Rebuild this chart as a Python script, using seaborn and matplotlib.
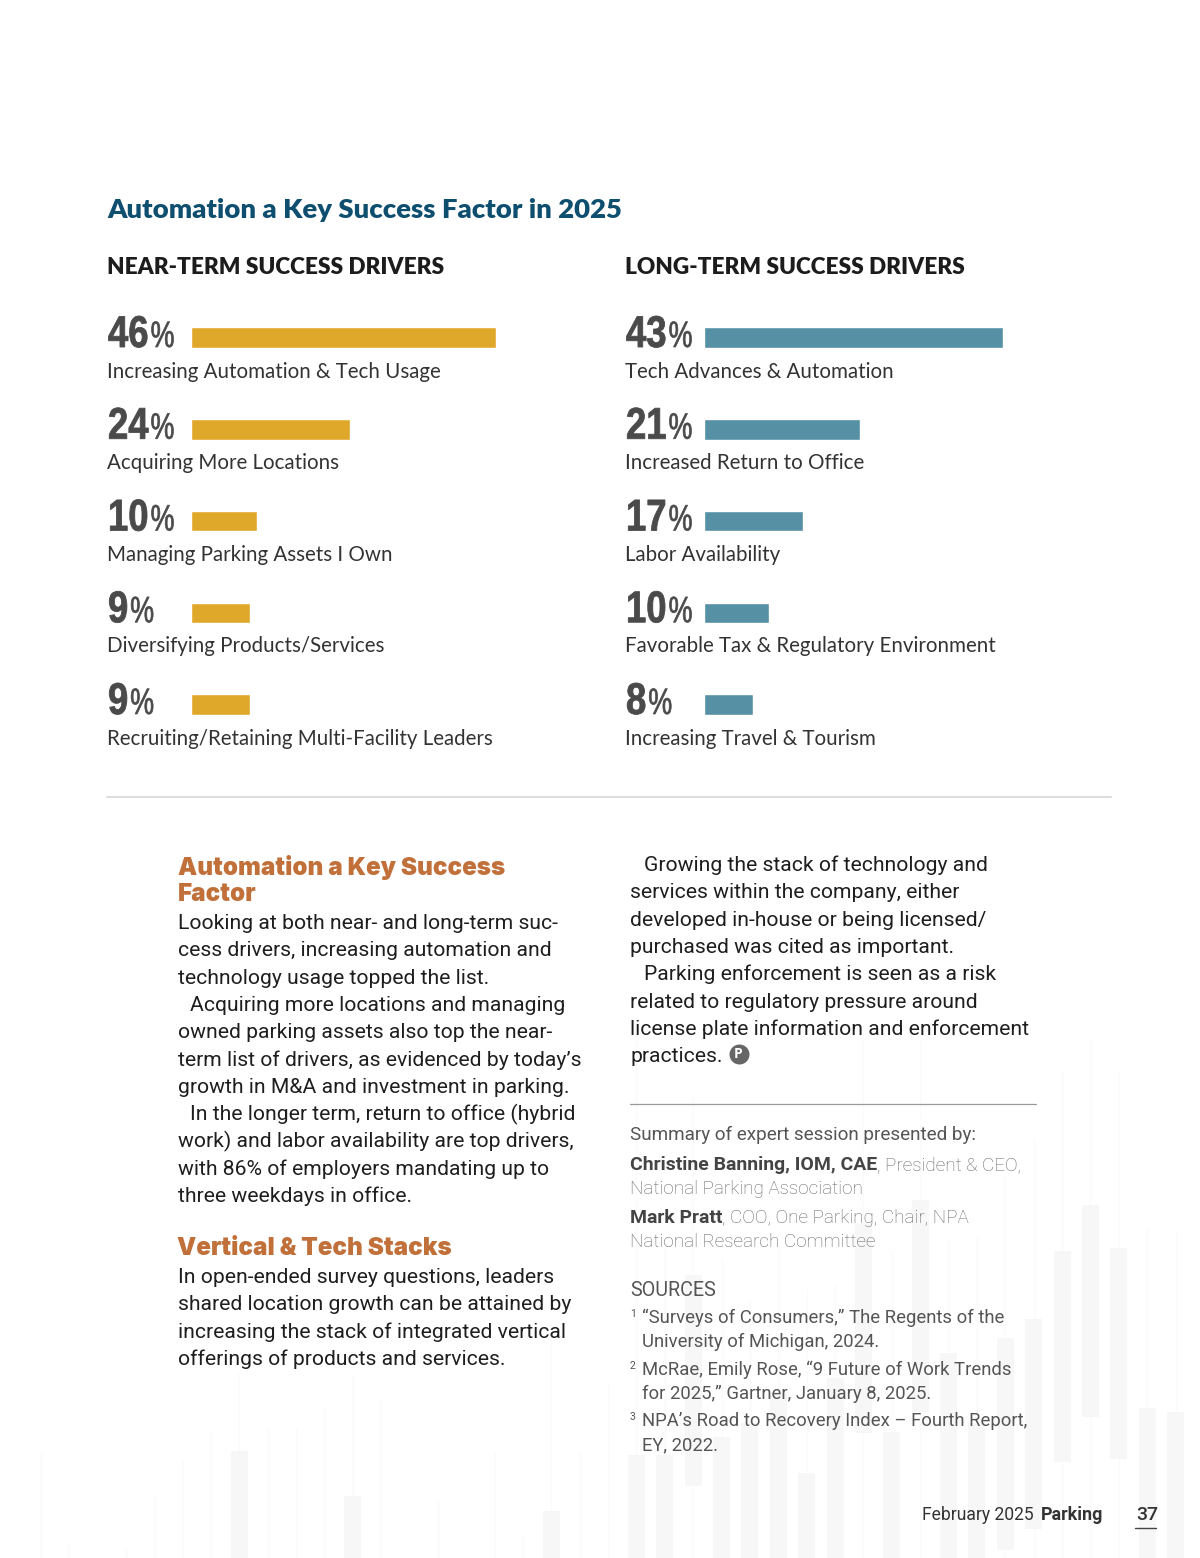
import numpy as np
import pandas as pd
import matplotlib.pyplot as plt
import matplotlib.patheffects as pe
from matplotlib.transforms import Affine2D
import seaborn as sns

# chart data
near_labels = ["Increasing Automation & Tech Usage", "Acquiring More Locations",
               "Managing Parking Assets I Own", "Diversifying Products/Services",
               "Recruiting/Retaining Multi-Facility Leaders"]
near_values = [46, 24, 10, 9, 9]
long_labels = ["Tech Advances & Automation", "Increased Return to Office",
               "Labor Availability", "Favorable Tax & Regulatory Environment",
               "Increasing Travel & Tourism"]
long_values = [43, 21, 17, 10, 8]
# the printed long-term bars are not proportional to their labels, lengths as drawn
long_lengths = [45, 23.6, 15, 9.8, 7.5]

# faint candlesticks behind the page, page pixels per candle, nan = nothing there
wick_top = [1452, 1543, np.nan, 1548, 1496, 1460, 1432, 1373, 1428, 1428, 1407, 1375, 1400, np.nan,
            1500, np.nan, 1452, 1535, 1333, 1452, 1383, 1040, 1240, 1095, 1260, 1300, 1250, 1290,
            1285, 1040, 1250, 1040, 1240, 1235, 1175, 1140, 1070, 1040, 1070, 1228, 1230]
body_top = [np.nan] * 7 + [1451] + [np.nan] * 3 + [1496] + [np.nan] * 6 + [1511] + [np.nan] * 2 + [
    1455, 1455, 1275, 1437, 1423, 1393, 1473, 1378, 1223, 1432, 1200, 1353, 1423, 1338, 1319,
    1251, 1205, 1248, 1408, 1412]
body_bottom = [np.nan] * 7 + [1558] + [np.nan] * 3 + [1558] + [np.nan] * 6 + [1558] + [np.nan] * 2 + [
    1558, 1558, 1486, 1558, 1558, 1558, 1558, 1558, 1433, 1558, 1412, 1558, 1558, 1550, 1529,
    1462, 1417, 1459, 1558, 1558]

# page text, (indented?, line)
left_text = [(0, "Looking at both near- and long-term suc-"), (0, "cess drivers, increasing automation and"),
             (0, "technology usage topped the list."), (1, "Acquiring more locations and managing"),
             (0, "owned parking assets also top the near-"), (0, "term list of drivers, as evidenced by today’s"),
             (0, "growth in M&A and investment in parking."), (1, "In the longer term, return to office (hybrid"),
             (0, "work) and labor availability are top drivers,"), (0, "with 86% of employers mandating up to"),
             (0, "three weekdays in office.")]
left_text2 = [(0, "In open-ended survey questions, leaders"), (0, "shared location growth can be attained by"),
              (0, "increasing the stack of integrated vertical"), (0, "offerings of products and services.")]
right_text = [(1, "Growing the stack of technology and"), (0, "services within the company, either"),
              (0, "developed in-house or being licensed/"), (0, "purchased was cited as important."),
              (1, "Parking enforcement is seen as a risk"), (0, "related to regulatory pressure around"),
              (0, "license plate information and enforcement"), (0, "practices.")]
sources = [("1", "“Surveys of Consumers,” The Regents of the", 1323), (None, "University of Michigan, 2024.", 1347),
           ("2", "McRae, Emily Rose, “9 Future of Work Trends", 1375), (None, "for 2025,” Gartner, January 8, 2025.", 1399),
           ("3", "NPA’s Road to Recovery Index – Fourth Report,", 1426), (None, "EY, 2022.", 1450)]

W, H = 1200, 1558
GOLD, TEAL = "#e0a82b", "#5690a5"
SANS = "Lato"

sns.set_theme(style="white")
fig = plt.figure(figsize=(W / 100, H / 100), dpi=100, facecolor="white")

# page axes in pixel coordinates
page = fig.add_axes([0, 0, 1, 1])
page.set_xlim(0, W)
page.set_ylim(H, 0)
page.axis("off")
renderer = fig.canvas.get_renderer()


class Condensed(pe.AbstractPathEffect):
    """squeeze a text horizontally about x, no condensed font is installed"""

    def __init__(self, x, sx, stroke=0):
        super().__init__()
        self.x, self.sx, self.stroke = x, sx, stroke

    def draw_path(self, renderer, gc, tpath, affine, rgbFace=None):
        squeeze = Affine2D().translate(-self.x, 0).scale(self.sx, 1).translate(self.x, 0)
        gc0 = renderer.new_gc()
        gc0.copy_properties(gc)
        if self.stroke:
            gc0.set_foreground(rgbFace)
            gc0.set_linewidth(self.stroke)
        renderer.draw_path(gc0, tpath, affine + squeeze, rgbFace)
        gc0.restore()


def size_for(text, width, **font):
    """font size that makes text the given pixel width"""
    t = page.text(0, 0, text, fontsize=20, **font)
    w = t.get_window_extent(renderer).width
    t.remove()
    return 20 * width / w


def put(x, y, text, size, color="#222222", **font):
    return page.text(x, y, text, fontsize=size, color=color, va="baseline", **font)


# background candles
cx = 40.7 + 28.37 * np.arange(len(wick_top))
page.vlines(cx, wick_top, H, color="#fafafa", lw=1, zorder=0)
page.bar(cx, np.array(body_bottom) - np.array(body_top), width=17, bottom=body_top,
         color="#f7f7f7", linewidth=0, zorder=0)

# title and column heads
title = dict(family=SANS, weight="heavy")
put(107, 218, "Automation a Key Success Factor in 2025",
    size_for("Automation a Key Success Factor in 2025", 514, **title), color="#0e4f70", **title)
head = size_for("NEAR-TERM SUCCESS DRIVERS", 337, **title)
put(107, 274, "NEAR-TERM SUCCESS DRIVERS", head, color="#1c1c1c", **title)
put(625, 274, "LONG-TERM SUCCESS DRIVERS", head, color="#1c1c1c", **title)

# bar panels
row = 91.75
label_base = [378, 469, 561, 652, 745]


def panel(x0, lengths, color):
    ax = fig.add_axes([x0 / W, 1 - (337.5 + 4.5 * row) / H, 340 / W, 5 * row / H])
    df = pd.DataFrame({"row": [str(i) for i in range(5)], "length": lengths})
    sns.barplot(data=df, x="length", y="row", color=color, width=20.5 / row, saturation=1, ax=ax)
    ax.set_xlim(0, 340 / 6.65)
    ax.axis("off")
    ax.patch.set_alpha(0)


panel(190.5, near_values, GOLD)
panel(703.5, long_lengths, TEAL)

label_size = size_for(near_labels[0], 334, family=SANS)
digit_font = dict(family="Liberation Sans", weight="bold")
for x0, vals, labels in [(107, near_values, near_labels), (625, long_values, long_labels)]:
    for i, (v, lab) in enumerate(zip(vals, labels)):
        base = 347 + i * row
        # digits hang left of their right edge so the squeezed box stays clear of the % sign
        t = put(x0, base, str(v), 32, color="#4a4a4a", ha="right", **digit_font)
        right = x0 + 1 + t.get_window_extent(renderer).width * 0.82
        t.set_x(right)
        t.set_path_effects([Condensed(right, 0.82, 0.6)])
        px = right + 2
        put(px, base, "%", 26.5, color="#4a4a4a", family="Liberation Sans",
            path_effects=[Condensed(px, 0.73, 0.5)])
        put(x0, label_base[i], lab, label_size, color="#333333", family=SANS)

page.plot([107, 1111], [797, 797], color="#dddddd", lw=1.5)

# article columns
sub = dict(family="Inter", weight="black")
sub_size = size_for("Automation a Key Success", 326, **sub)
put(178, 875, "Automation a Key Success", sub_size, color="#c1703a", **sub)
put(178, 901, "Factor", sub_size, color="#c1703a", **sub)
put(177, 1255, "Vertical & Tech Stacks", sub_size, color="#c1703a", **sub)

body_size = size_for(left_text[5][1], 401, family="Roboto")
for x0, y0, block, gap in [(178, 929, left_text, 12.5), (178, 1283, left_text2, 12.5), (630, 871, right_text, 14)]:
    for i, (indent, line) in enumerate(block):
        put(x0 + indent * gap, y0 + i * 27.3, line, body_size, color="#1e1e1e", family="Roboto")

# the little P end mark
page.scatter([738.5], [1054], s=207, color="#666666", linewidth=0, zorder=3)
page.text(738.5, 1054.5, "P", fontsize=10, color="white", weight="bold", ha="center", va="center",
          family="Open Sans", zorder=4)

page.plot([630, 1036], [1104, 1104], color="#999999", lw=0.9)

# credits
small = size_for("Summary of expert session presented by:", 345, family="Roboto")
put(630, 1140, "Summary of expert session presented by:", small, color="#555555", family="Roboto")
name_size = size_for("Christine Banning, IOM, CAE", 246, family="Roboto", weight="bold")
for y, name, rest, line2 in [(1170, "Christine Banning, IOM, CAE", ", President & CEO,", "National Parking Association"),
                             (1223, "Mark Pratt", ", COO, One Parking, Chair, NPA", "National Research Committee")]:
    t = put(630, y, name, name_size, color="#444444", family="Roboto", weight="bold")
    put(630 + t.get_window_extent(renderer).width, y, rest, small, color="#666666", family="Roboto", weight="light")
    put(630, y + 24, line2, small, color="#666666", family="Roboto", weight="light")

put(630, 1296, "SOURCES", small * 1.05, color="#555555", family="Roboto")
src_size = size_for(sources[4][1], 386, family="Roboto")
for mark, line, y in sources:
    if mark:
        put(630, y - 6, mark, small * 0.55, color="#555555", family="Roboto")
    put(642, y, line, src_size, color="#555555", family="Roboto")

# footer
put(922, 1520, "February 2025", small * 0.93, color="#333333", family="Roboto")
put(1041, 1520, "Parking", small * 0.95, color="#333333", family="Roboto", weight="bold")
put(1136, 1520, "37", 14, color="#333333", family="Roboto", weight="medium")
page.plot([1135, 1156], [1528, 1528], color="#444444", lw=1)

fig.savefig("out.png", dpi=100, facecolor="white")
